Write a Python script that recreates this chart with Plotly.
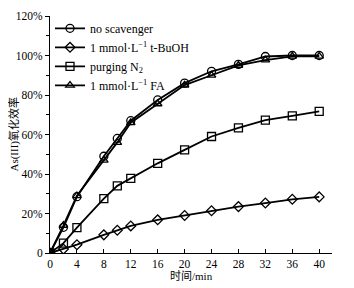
import plotly.graph_objects as go

t = [0, 2, 4, 8, 10, 12, 16, 20, 24, 28, 32, 36, 40]
no_scavenger = [0, 13, 28.5, 49, 58, 67, 77.5, 86, 92, 95.5, 99.5, 100, 100]
tbuoh = [0, 2, 4.2, 9.2, 11.5, 13.7, 16.8, 19, 21.4, 23.5, 25.3, 27.2, 28.4]
purging_n2 = [0, 5, 12.8, 27.5, 34, 37.8, 45.4, 52.2, 59, 63.4, 67.3, 69.4, 71.7]
fa = [0, 14, 29, 47, 56, 66, 75.5, 85, 90, 95, 97.7, 99.6, 99.6]

names = ["no scavenger", "1 mmol·L<sup>−1</sup> t-BuOH", "purging N<sub>2</sub>", "1 mmol·L<sup>−1</sup> FA"]
series = [no_scavenger, tbuoh, purging_n2, fa]
symbols = ["circle-open", "diamond-open", "square-open", "triangle-up-open"]
sizes = [8, 7.5, 8, 7.5]
x_ticks = [0, 4, 8, 12, 16, 20, 24, 28, 32, 36, 40]
y_ticks = [0, 20, 40, 60, 80, 100, 120]
y_labels = ["0", "20%", "40%", "60%", "80%", "100%", "120%"]

fig = go.Figure()
for i, (n, s, sym, sz) in enumerate(zip(names, series, symbols, sizes)):
    fig.add_trace(go.Scatter(
        x=t, y=s, name=n, mode="lines+markers", legendgroup=f"g{i}",
        line=dict(color="black", width=1.8),
        marker=dict(symbol=sym, size=sz, color="black", line=dict(width=1.3, color="black")),
    ))

font = "Liberation Serif, Times New Roman, serif"
cjk = "Liberation Serif, Noto Sans CJK SC"
fig.update_layout(
    width=346, height=280,
    margin=dict(l=42, r=22, t=7, b=34.5),
    paper_bgcolor="white", plot_bgcolor="white",
    font=dict(family=font, size=11, color="black"),
    showlegend=True,
    legend=dict(x=0.0, y=1.005, xanchor="left", yanchor="top", bgcolor="rgba(0,0,0,0)",
                font=dict(family=font, size=12), tracegroupgap=0, itemwidth=30),
    xaxis=dict(range=[0, 41.9], tickvals=x_ticks, ticks="inside", ticklen=4, tickcolor="black",
               showline=True, linecolor="black", linewidth=1, showgrid=False, zeroline=False,
               automargin=False, tickfont=dict(size=11.5)),
    yaxis=dict(range=[0, 120], tickvals=y_ticks, ticktext=y_labels, ticks="outside", ticklen=4,
               tickcolor="black", showline=True, linecolor="black", linewidth=1, showgrid=False,
               zeroline=False, automargin=False, tickfont=dict(size=11.5),
               minor=dict(dtick=10, ticks="outside", ticklen=3, tickcolor="black")),
    annotations=[
        dict(text="时间/min", xref="paper", yref="paper", x=0.5, y=-0.0985, xanchor="center",
             yanchor="middle", showarrow=False, font=dict(family=cjk, size=11)),
        dict(text="As(III)氧化效率", xref="paper", yref="paper", x=-0.131, y=0.5, xanchor="center",
             yanchor="middle", textangle=-90, showarrow=False, font=dict(family=cjk, size=11)),
    ],
)
fig.write_html("out.html")
